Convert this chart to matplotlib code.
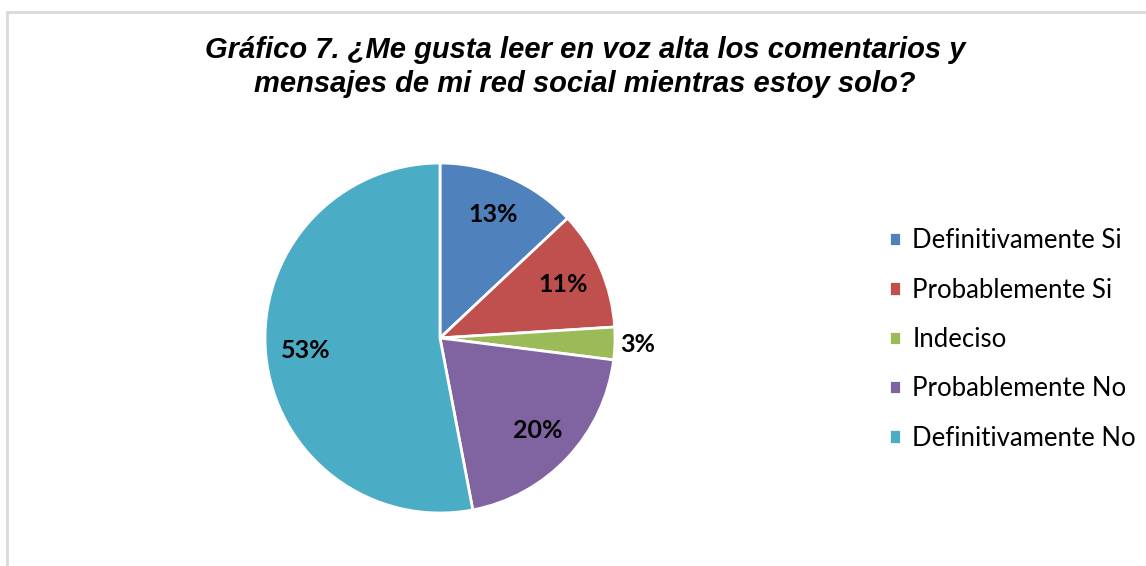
import matplotlib.pyplot as plt
from matplotlib.patches import Rectangle
import numpy as np

# --- datos del gráfico ---
categorias = ['Definitivamente Si', 'Probablemente Si', 'Indeciso',
              'Probablemente No', 'Definitivamente No']
porcentajes = [13, 11, 3, 20, 53]
colores = ['#4F81BD', '#C0504D', '#9BBB59', '#8064A2', '#4BACC6']
titulo = 'Gráfico 7. ¿Me gusta leer en voz alta los comentarios y\nmensajes de mi red social mientras estoy solo?'

W, H = 1146, 566
fig = plt.figure(figsize=(W / 100, H / 100), dpi=100)

# borde del área del gráfico
fig.patches.append(Rectangle((7 / W, -0.1), 1.2, (H - 12) / H + 0.1,
                             transform=fig.transFigure, fill=False,
                             edgecolor='#d9d9d9', linewidth=2))

cx, cy, r = 440, 338, 175
ax = fig.add_axes([(cx - r) / W, (H - cy - r) / H, 2 * r / W, 2 * r / H])

wedges, textos = ax.pie(porcentajes, colors=colores, startangle=90,
                        counterclock=False, radius=1,
                        wedgeprops=dict(edgecolor='white', linewidth=2))

# etiquetas de porcentaje
for w, p in zip(wedges, porcentajes):
    mid = np.deg2rad((w.theta1 + w.theta2) / 2)
    dist = 1.13 if p < 5 else 0.77
    ax.text(dist * np.cos(mid), dist * np.sin(mid), f'{p}%',
            ha='center', va='center', fontsize=18, fontweight='bold',
            family='Lato')
ax.set_xlim(-1, 1)
ax.set_ylim(-1, 1)
ax.set_aspect('equal')
ax.axis('off')

fig.text(585 / W, 1 - 67 / H, titulo, ha='center', va='center',
         fontsize=21, fontweight='bold', fontstyle='italic',
         family='Liberation Sans', linespacing=1.28)

leg = fig.legend(wedges, categorias, loc='upper left',
                 bbox_to_anchor=(866 / W, 1 - 205 / H), frameon=False,
                 prop=dict(family='Lato', size=18.5), handlelength=0.48,
                 handleheight=0.48, handletextpad=0.42, labelspacing=0.95)

fig.savefig('out.png', dpi=100)
